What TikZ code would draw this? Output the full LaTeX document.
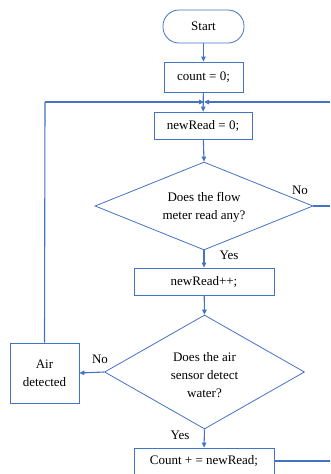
\documentclass[tikz,border=0pt]{standalone}
\usepackage{fontspec}
\setmainfont{Liberation Serif}
\usetikzlibrary{shapes.geometric,arrows.meta}
\definecolor{fblue}{RGB}{68,114,196}
\begin{document}
\begin{tikzpicture}[x=1pt,y=-1pt,
  every node/.style={font=\fontsize{13}{18}\selectfont, text=black},
  box/.style={draw=fblue, line width=0.8pt, rectangle, inner sep=0pt},
  term/.style={draw=fblue, line width=0.8pt, rounded corners=16pt, inner sep=0pt},
  dec/.style={draw=fblue, line width=0.8pt, diamond, inner sep=0pt, align=center},
  flow/.style={draw=fblue, line width=1.1pt, -{Triangle[length=5pt,width=4.5pt]}},
  line/.style={draw=fblue, line width=1.1pt},
  lbl/.style={font=\fontsize{13}{18}\selectfont}
]
\useasboundingbox (0,0) rectangle (330,474);
\clip (0,0) rectangle (330,474);
\node[term, minimum width=81pt, minimum height=33pt] (start) at (203.5,26.5) {Start};
\node[box, minimum width=79pt, minimum height=30pt] (count) at (203.5,77) {count = 0;};
\node[box, minimum width=98pt, minimum height=27pt] (nr0) at (203,125.5) {newRead = 0;};
\node[dec, minimum width=218pt, minimum height=88pt] (d1) at (204,206) {};
\node[align=center, lbl] at (204,207) {Does the flow\\meter read any?};
\node[box, minimum width=140pt, minimum height=27pt] (nrpp) at (204,281.5) {newRead++;};
\node[dec, minimum width=200pt, minimum height=114pt] (d2) at (204.5,372) {};
\node[align=center, lbl] at (204.5,375) {Does the air\\sensor detect\\water?};
\node[box, minimum width=69pt, minimum height=60pt, align=center] (air) at (44.5,373) {Air\\detected};
\node[box, minimum width=140pt, minimum height=34pt] (cnt) at (204,465) {};
\node[lbl] at (204,461) {Count + = newRead;};
\coordinate (j) at (204,102);
\coordinate (jl) at (45,102);
\coordinate (jr) at (335,102);
\coordinate (d1r) at (335,206);
\coordinate (cr) at (335,461);
\coordinate (cbr) at (274,461);
\draw[flow] (start) -- (count);
\draw[flow] (count) -- (nr0);
\draw[line] (air.north) -- (jl);
\draw[flow] (jl) -- (j);
\draw[flow] (jr) -- (j);
\draw[flow] (nr0) -- (d1.north);
\draw[line] (d1.east) -- (d1r);
\draw[flow] (d1.south) -- (nrpp);
\draw[flow] (nrpp) -- (d2.north);
\draw[flow] (d2.west) -- (air.east);
\draw[flow] (d2.south) -- (cnt.north);
\draw[line] (cbr) -- (cr);
\node[lbl] at (300,190) {No};
\node[lbl] at (229,255) {Yes};
\node[lbl] at (100,359) {No};
\node[lbl] at (180,435) {Yes};
\end{tikzpicture}
\end{document}
